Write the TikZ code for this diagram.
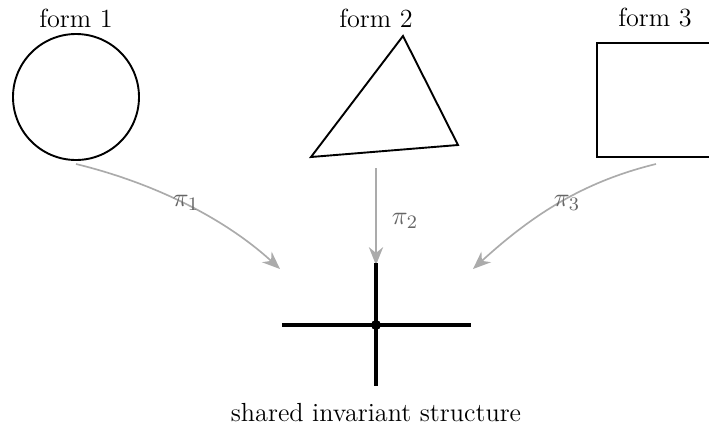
\documentclass[tikz,border=0pt]{standalone}
\usetikzlibrary{arrows.meta}
\begin{document}
\begin{tikzpicture}[x=0.42pt,y=-0.42pt,
  shapeline/.style={draw=black,line width=0.8pt},
  proj/.style={draw=black!33,line width=0.7pt,-{Stealth[length=7.5pt,width=6pt]}},
  projlabel/.style={text=black!60,inner sep=1pt,font=\fontsize{11}{13}\selectfont},
  crossline/.style={draw=black,line width=1.3pt},
  formlabel/.style={inner sep=0pt,font=\fontsize{11}{13}\selectfont}]
\useasboundingbox (0,0) rectangle (709,435);
% forms
\node[formlabel] (t1) at (76,18) {form 1};
\node[formlabel] (t2) at (376,18) {form 2};
\node[formlabel] (t3) at (655,18) {form 3};
\node[shapeline,circle,minimum size=126*0.42pt,inner sep=0pt] (c1) at (76,97) {};
\coordinate (a) at (403,36);
\coordinate (b) at (311,157);
\coordinate (c) at (458,145);
\draw[shapeline,line join=miter] (a) -- (b) -- (c) -- cycle;
\node[shapeline,rectangle,minimum width=114*0.42pt,minimum height=114*0.42pt,inner sep=0pt] (sq) at (654,100) {};
% projection ends
\coordinate (s1) at (76,164);
\coordinate (e1) at (280,269);
\coordinate (s2) at (376,168);
\coordinate (e2) at (376,265);
\coordinate (s3) at (656,164);
\coordinate (e3) at (473,269);
\draw[proj] (s1) .. controls (150,182) and (222,216) .. (e1);
\draw[proj] (s2) -- (e2);
\draw[proj] (s3) .. controls (582,182) and (531,216) .. (e3);
\node[projlabel] (p1) at (186,203) {$\pi_1$};
\node[projlabel] (p2) at (405,221) {$\pi_2$};
\node[projlabel] (p3) at (567,203) {$\pi_3$};
% cross
\coordinate (ct) at (376,263);
\coordinate (cb) at (376,386);
\coordinate (cl) at (282,325);
\coordinate (cr) at (471,325);
\draw[crossline] (ct) -- (cb);
\draw[crossline] (cl) -- (cr);
\node[circle,fill=black,minimum size=10*0.42pt,inner sep=0pt] (dot) at (376,325) {};
\node[formlabel] (shared) at (376,413) {shared invariant structure};
\end{tikzpicture}
\end{document}
